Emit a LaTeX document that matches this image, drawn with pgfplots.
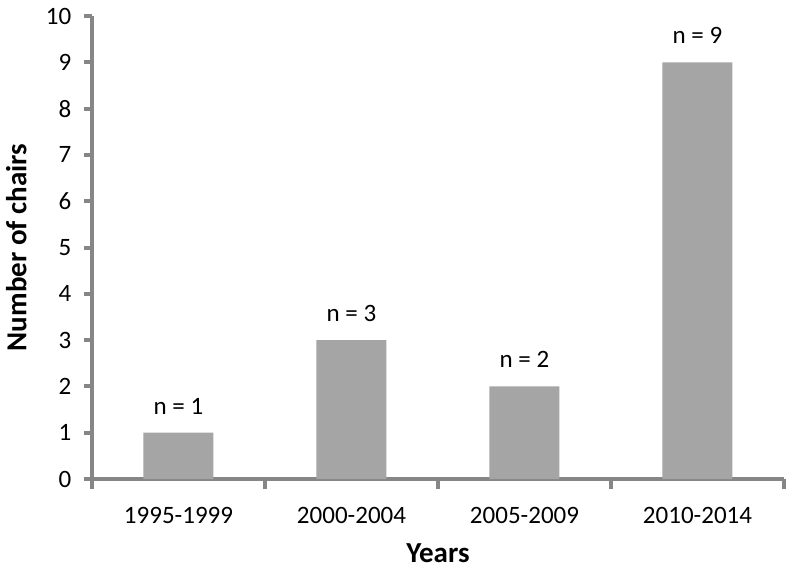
\documentclass[border=0pt]{standalone}
\usepackage{fontspec}
\setmainfont{Carlito}
\usepackage{pgfplots}
\pgfplotsset{compat=1.18}
\definecolor{BarGray}{RGB}{165,165,165}
\definecolor{AxisGray}{RGB}{134,134,134}
\begin{document}
\begin{tikzpicture}
\begin{axis}[
  name=ax,
  scale only axis,
  width=346pt, height=231.5pt,
  ybar, bar width=35pt,
  xmin=-0.5, xmax=3.5,
  ymin=0, ymax=10,
  ytick={0,1,...,10},
  xtick={0,1,2,3},
  xticklabels={1995-1999,2000-2004,2005-2009,2010-2014},
  minor xtick={-0.5,0.5,1.5,2.5,3.5},
  axis x line=bottom, axis y line=left,
  line width=2pt,
  axis line style={draw=AxisGray, -},
  every tick/.append style={draw=AxisGray, line width=2pt},
  major tick style={draw=AxisGray, line width=2pt},
  minor tick style={draw=AxisGray, line width=2pt},
  major x tick style={draw=none},
  tick align=outside,
  major tick length=4pt, minor tick length=5pt,
  tick label style={font=\fontsize{12.5}{14}\selectfont},
  /pgf/number format/assume math mode=true,
  xticklabel style={yshift=-6pt},
  yticklabel style={xshift=-2pt},
  xlabel={\textbf{Years}},
  ylabel={\textbf{Number of chairs}},
  label style={font=\fontsize{14.5}{17}\selectfont},
  ylabel style={yshift=2pt},
  xlabel style={yshift=-2pt},
  nodes near coords={n = \pgfmathprintnumber{\pgfplotspointmeta}},
  nodes near coords style={font=\fontsize{12.5}{14}\selectfont, anchor=south, yshift=5pt},
  clip=false,
]
\addplot[fill=BarGray, draw=none] coordinates {(0,1) (1,3) (2,2) (3,9)};
\end{axis}
\pgfresetboundingbox
\path (ax.south west) ++(-46pt,-45.5pt) rectangle ++(400pt,285pt);
\end{tikzpicture}
\end{document}
